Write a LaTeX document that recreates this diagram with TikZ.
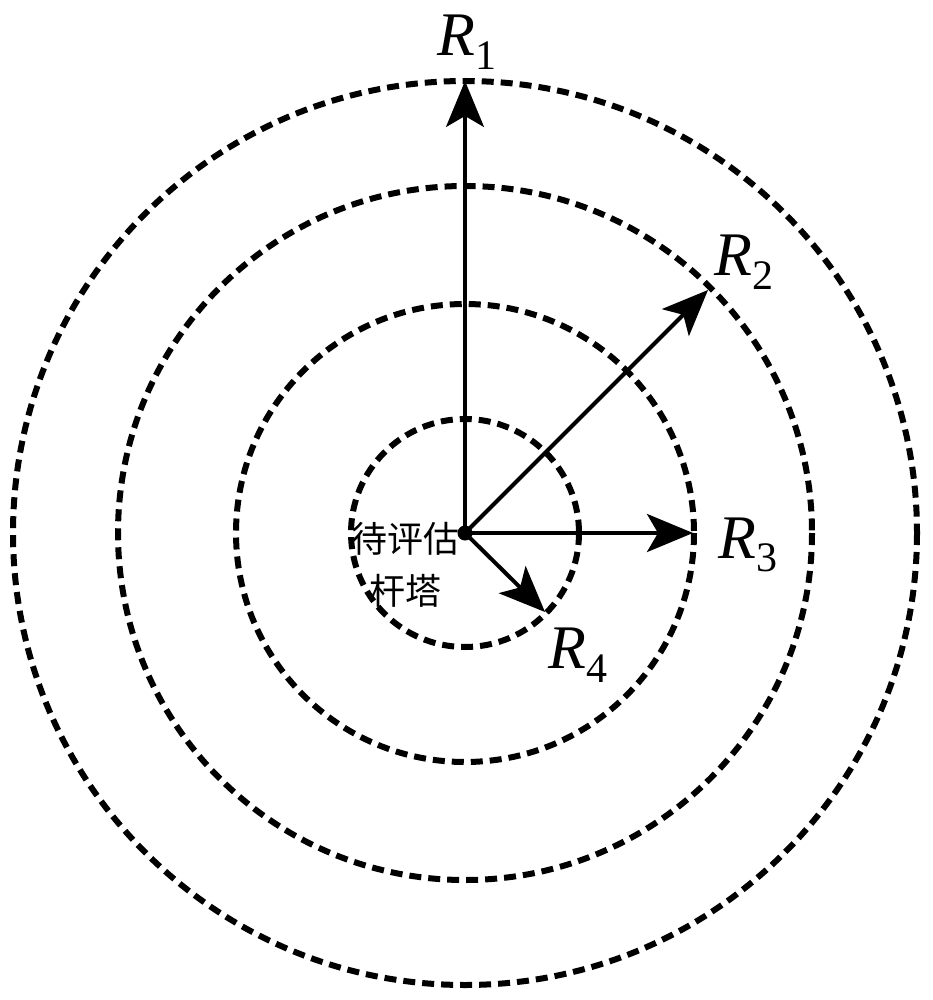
\documentclass[tikz,border=0pt]{standalone}
\usepackage{fontspec}
\setmainfont{Liberation Serif}
\newfontfamily\serifr{Liberation Serif}
\newfontfamily\cjk{Noto Sans CJK SC}
\usetikzlibrary{arrows.meta}
\tikzset{
  ring/.style={draw=black, line width=6pt, dash pattern=on 12pt off 7pt},
  vec/.style={draw=black, line width=4pt, -{Stealth[length=46pt,width=38pt,inset=11pt]}},
  rlab/.style={inner sep=0pt, font=\serifr\fontsize{62}{62}\selectfont},
  cjklab/.style={inner sep=0pt, align=center, font=\cjk\fontsize{36}{52}\selectfont}
}
\newcommand{\rsub}[1]{{\serifr\itshape R}\raisebox{-0.22em}{\serifr\upshape\fontsize{42}{42}\selectfont #1}}
\begin{document}
\begin{tikzpicture}[x=1pt,y=-1pt]
\useasboundingbox (0,0) rectangle (933,1000);
\coordinate (O) at (465,533);
\draw[ring] (O) circle[radius=452];
\draw[ring] (O) circle[radius=347];
\draw[ring] (O) circle[radius=229];
\draw[ring] (O) circle[radius=114];
\coordinate (t1) at (465,81);
\coordinate (t2) at (708,290);
\coordinate (t3) at (693,533);
\coordinate (t4) at (545,612);
\draw[vec, line width=3.2pt] (O) -- (t1);
\draw[vec] (O) -- (t2);
\draw[vec] (O) -- (t3);
\draw[vec] (O) -- (t4);
\fill (O) circle[radius=7.5];
\node[rlab] (r1) at (467,42) {\rsub{1}};
\node[rlab] (r2) at (744,262) {\rsub{2}};
\node[rlab] (r3) at (748,545) {\rsub{3}};
\node[rlab] (r4) at (578,655) {\rsub{4}};
\node[cjklab] (tower) at (405,565) {待评估\\杆塔};
\end{tikzpicture}
\end{document}
